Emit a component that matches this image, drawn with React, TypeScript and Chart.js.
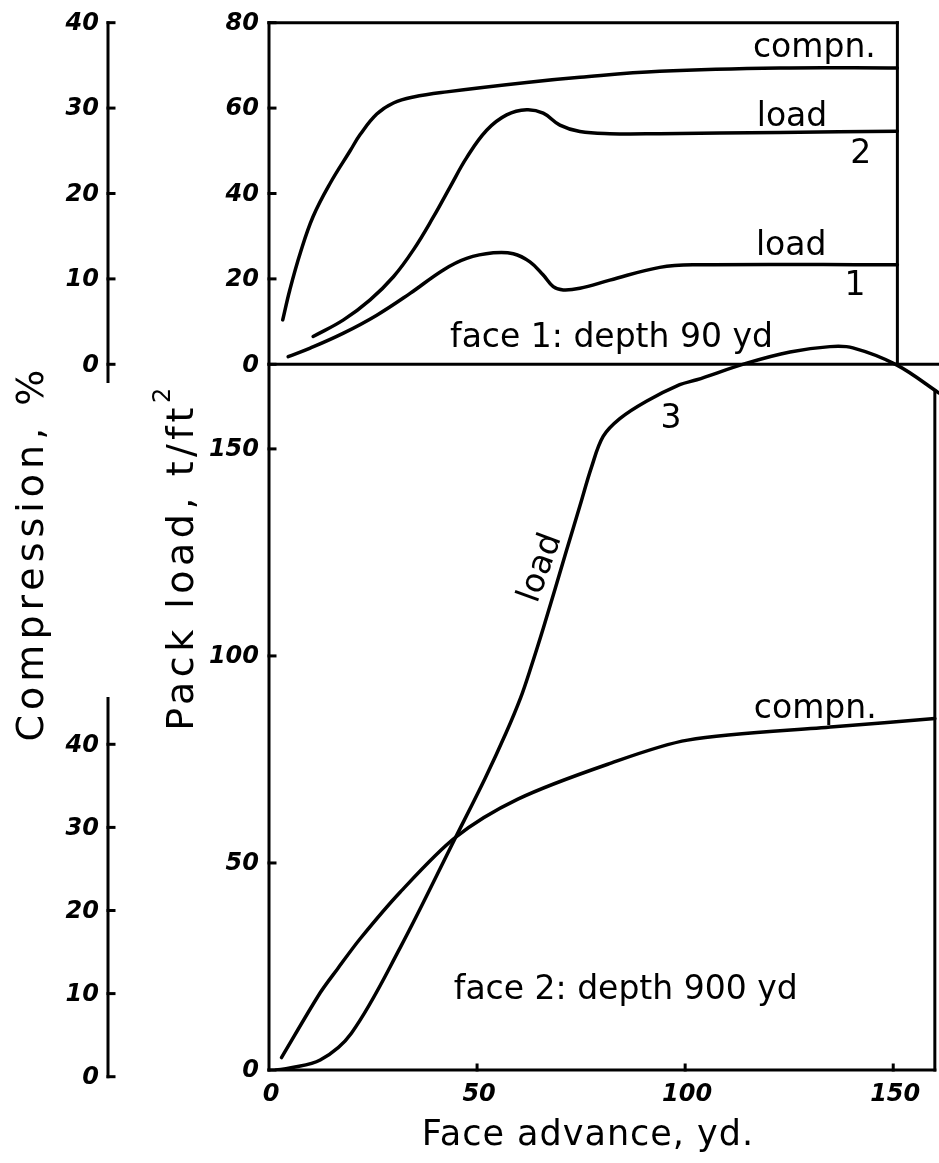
import React, { useEffect, useRef } from "react";
import { Chart, registerables } from "chart.js";
Chart.register(...registerables);

// ---- Face 1 : depth 90 yd (upper panel) ----
const face1CompnX = [3.3, 5.0, 7.5, 10.6, 14.7, 19.5, 21.9, 25.9, 29.9, 34.7, 42.7, 61.9, 74.7, 93.9, 122.8, 151];
const face1CompnPct = [5.2, 8.7, 13.0, 17.3, 21.2, 25.0, 26.9, 29.3, 30.6, 31.3, 31.9, 33.0, 33.6, 34.3, 34.7, 34.7];

const face1Load2X = [10.6, 17.9, 24.3, 29.9, 34.7, 39.5, 43.5, 47.5, 52.3, 57.1, 61.9, 65.9, 69.9, 74.7, 81.9, 93.9, 122.8, 151];
const face1Load2 = [6.5, 10.4, 15.1, 20.5, 26.8, 34.5, 41.5, 48.4, 54.8, 58.4, 59.6, 58.8, 56.0, 54.5, 54.0, 54.0, 54.3, 54.6];

const face1Load1X = [4.6, 9.9, 17.9, 25.9, 33.9, 41.9, 47.5, 53.9, 58.7, 62.7, 65.9, 68.3, 70.7, 74.7, 81.9, 93.9, 102.7, 151];
const face1Load1 = [1.8, 3.8, 7.3, 11.5, 16.6, 22.1, 24.8, 26.1, 25.9, 24.0, 20.9, 18.2, 17.4, 17.8, 19.7, 22.7, 23.3, 23.3];

// ---- Face 2 : depth 900 yd (lower panel) ----
const face2LoadX = [1.7, 5.0, 12.3, 19.8, 31.5, 44.8, 52.0, 57.0, 60.5, 62.7, 66.0, 71.5, 74.7, 77.5, 80.3, 84.3, 90.7, 98.7, 102.8, 114.8, 125.2, 134.8, 140.3, 150.8, 161];
const face2Load = [0, 0.5, 2.4, 8.9, 29.5, 56.1, 70.6, 81.5, 90.0, 96.5, 107.0, 125.5, 136.2, 145.6, 153.0, 157.3, 161.5, 165.5, 166.7, 170.7, 173.4, 174.7, 174.4, 170.3, 163.5];

const face2CompnX = [3.0, 12.3, 16.5, 21.9, 31.5, 44.8, 59.8, 81.4, 100.6, 135.7, 160];
const face2CompnPct = [2.3, 10.1, 13.0, 16.6, 22.2, 28.8, 33.4, 37.6, 40.5, 42.1, 43.1];

// ---- ticks ----
const xTicks = [0, 50, 100, 150];
const loadTicksTop = [0, 20, 40, 60, 80];
const loadTicksBottom = [0, 50, 100, 150];
const compnTicks = [0, 10, 20, 30, 40];

// ---- panel frame (data units) ----
const topPanelRightX = 151;
const bottomPanelRightX = 160;
const bottomPanelRightTop = 164;
const xMax = 161;

type Note = { text: string; x: number; y: number; axis: string; align: CanvasTextAlign; rotate?: number };
const notes: Note[] = [
  { text: "compn.", x: 116.3, y: 72.0, axis: "yt", align: "left" },
  { text: "load", x: 117.2, y: 55.8, axis: "yt", align: "left" },
  { text: "2", x: 142.2, y: 47.1, axis: "yt", align: "center" },
  { text: "load", x: 117.0, y: 25.6, axis: "yt", align: "left" },
  { text: "1", x: 140.8, y: 16.2, axis: "yt", align: "center" },
  { text: "face 1: depth 90 yd", x: 43.5, y: 4.05, axis: "yt", align: "left" },
  { text: "3", x: 96.6, y: 155.1, axis: "yb", align: "center" },
  { text: "load", x: 67.3, y: 120.5, axis: "yb", align: "center", rotate: -70 },
  { text: "compn.", x: 116.5, y: 85.0, axis: "yb", align: "left" },
  { text: "face 2: depth 900 yd", x: 44.4, y: 17.1, axis: "yb", align: "left" },
];

const TICK_FONT = 'italic bold 24px "DejaVu Sans"';
const NOTE_FONT = '33px "DejaVu Sans"';
const COMP_AXIS_PX = 108;

const framePlugin = {
  id: "frame",
  afterDatasetsDraw(chart: any) {
    const ctx: CanvasRenderingContext2D = chart.ctx;
    const { x, yb, yt, ct, cb } = chart.scales;
    const X = (v: number) => x.getPixelForValue(v);
    ctx.save();
    ctx.strokeStyle = "#000";
    ctx.fillStyle = "#000";
    ctx.lineWidth = 3;
    ctx.lineCap = "square";
    const seg = (x1: number, y1: number, x2: number, y2: number) => {
      ctx.beginPath();
      ctx.moveTo(x1, y1);
      ctx.lineTo(x2, y2);
      ctx.stroke();
    };
    const x0 = X(0);
    // pack load axis (full height)
    seg(x0, yb.getPixelForValue(0), x0, yt.getPixelForValue(80));
    // x axis
    seg(x0, yb.getPixelForValue(0), X(bottomPanelRightX), yb.getPixelForValue(0));
    // bottom panel right edge
    seg(X(bottomPanelRightX), yb.getPixelForValue(0), X(bottomPanelRightX), yb.getPixelForValue(bottomPanelRightTop));
    // top panel zero line
    seg(x0, yt.getPixelForValue(0), X(xMax), yt.getPixelForValue(0));
    // top panel box
    seg(x0, yt.getPixelForValue(80), X(topPanelRightX), yt.getPixelForValue(80));
    seg(X(topPanelRightX), yt.getPixelForValue(0), X(topPanelRightX), yt.getPixelForValue(80));
    // compression axes
    seg(COMP_AXIS_PX, ct.getPixelForValue(40), COMP_AXIS_PX, ct.getPixelForValue(-2));
    seg(COMP_AXIS_PX, cb.getPixelForValue(0), COMP_AXIS_PX, cb.getPixelForValue(45.5));

    ctx.font = TICK_FONT;
    ctx.lineWidth = 3;
    // pack load ticks
    ctx.textAlign = "right";
    ctx.textBaseline = "middle";
    const loadTick = (py: number, label: string) => {
      seg(x0, py, x0 + 6, py);
      ctx.fillText(label, x0 - 10, py + 1);
    };
    loadTicksTop.forEach((v) => loadTick(yt.getPixelForValue(v), String(v)));
    loadTicksBottom.forEach((v) => loadTick(yb.getPixelForValue(v), String(v)));
    // compression ticks
    const compTick = (py: number, label: string) => {
      seg(COMP_AXIS_PX, py, COMP_AXIS_PX + 6, py);
      ctx.fillText(label, COMP_AXIS_PX - 9, py + 1);
    };
    compnTicks.forEach((v) => compTick(ct.getPixelForValue(v), String(v)));
    compnTicks.forEach((v) => compTick(cb.getPixelForValue(v), String(v)));
    // x ticks
    ctx.textAlign = "center";
    ctx.textBaseline = "middle";
    const y0 = yb.getPixelForValue(0);
    xTicks.forEach((v) => {
      const px = X(v);
      if (v !== 0) seg(px, y0, px, y0 - 5);
      ctx.fillText(String(v), px + 2, y0 + 25);
    });

    // annotations
    ctx.font = NOTE_FONT;
    notes.forEach((n) => {
      const px = X(n.x);
      const py = chart.scales[n.axis].getPixelForValue(n.y);
      ctx.save();
      ctx.translate(px, py);
      if (n.rotate) ctx.rotate((n.rotate * Math.PI) / 180);
      ctx.textAlign = n.align;
      ctx.textBaseline = "alphabetic";
      ctx.fillText(n.text, 0, 0);
      ctx.restore();
    });

    // axis titles
    const title = (text: string, cx: number, cy: number, angle: number, font: string, spacing: number) => {
      ctx.save();
      ctx.translate(cx, cy);
      ctx.rotate(angle);
      ctx.font = font;
      (ctx as any).letterSpacing = spacing + "px";
      ctx.textAlign = "center";
      ctx.textBaseline = "alphabetic";
      ctx.fillText(text, 0, 0);
      ctx.restore();
    };
    title("Compression, %", 43, 553, -Math.PI / 2, '38px "DejaVu Sans"', 5);
    title("Face advance, yd.", 588, 1145, 0, '35px "DejaVu Sans"', 1);

    // Pack load, t/ft² with superscript
    ctx.save();
    ctx.translate(193, 557);
    ctx.rotate(-Math.PI / 2);
    (ctx as any).letterSpacing = "4.5px";
    ctx.font = '38px "DejaVu Sans"';
    const main = "Pack load, t/ft";
    const w1 = ctx.measureText(main).width;
    ctx.font = '24px "DejaVu Sans"';
    const w2 = ctx.measureText("2").width;
    const start = -(w1 + w2) / 2;
    ctx.textAlign = "left";
    ctx.textBaseline = "alphabetic";
    ctx.font = '38px "DejaVu Sans"';
    ctx.fillText(main, start, 0);
    ctx.font = '24px "DejaVu Sans"';
    ctx.fillText("2", start + w1, -23);
    ctx.restore();

    ctx.restore();
  },
};

export default function App() {
  const ref = useRef<HTMLCanvasElement>(null);
  useEffect(() => {
    const canvas = ref.current!;
    const pts = (xs: number[], ys: number[]) => xs.map((x, i) => ({ x, y: ys[i] }));
    const line = (label: string, data: any[], yAxisID: string, tension: number) => ({
      label,
      data,
      yAxisID,
      borderColor: "#000",
      borderWidth: 3.5,
      pointRadius: 0,
      fill: false,
      borderCapStyle: "round",
      borderJoinStyle: "round",
      cubicInterpolationMode: "default",
      tension,
    });
    const chart = new Chart(canvas, {
      type: "line",
      data: {
        datasets: [
          line("face 1 compn.", pts(face1CompnX, face1CompnPct), "ct", 0.4),
          line("face 1 load 2", pts(face1Load2X, face1Load2), "yt", 0.4),
          line("face 1 load 1", pts(face1Load1X, face1Load1), "yt", 0.4),
          line("face 2 load 3", pts(face2LoadX, face2Load), "yb", 0.35),
          line("face 2 compn.", pts(face2CompnX, face2CompnPct), "cb", 0.3),
        ] as any,
      },
      options: {
        responsive: false,
        animation: false,
        layout: { padding: { left: 269, right: 0, top: 22, bottom: 93 } },
        plugins: { legend: { display: false }, tooltip: { enabled: false } },
        scales: {
          x: { type: "linear", min: 0, max: xMax, display: false },
          yb: { type: "linear", min: 0, max: 253.1, display: false },
          yt: { type: "linear", min: -165.27, max: 80.16, display: false },
          ct: { type: "linear", min: -82.63, max: 40.08, display: false },
          cb: { type: "linear", min: 0.806, max: 126.92, display: false },
        },
      } as any,
      plugins: [framePlugin],
    });
    return () => chart.destroy();
  }, []);
  return (
    <canvas
      ref={ref}
      width={939}
      height={1163}
      style={{ position: "absolute", left: 0, top: 0, background: "#fff" }}
    />
  );
}
